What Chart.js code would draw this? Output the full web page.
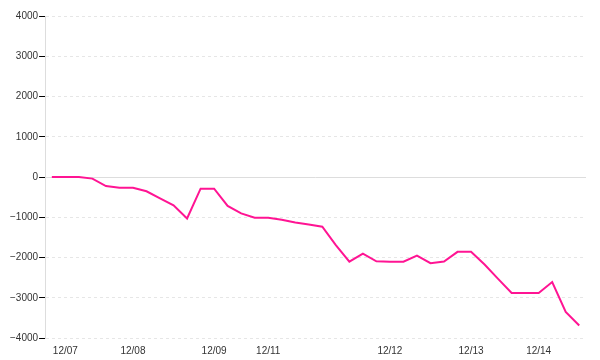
<!DOCTYPE html>
<html>
<head>
<meta charset="utf-8">
<script src="https://cdn.jsdelivr.net/npm/chart.js@4/dist/chart.umd.min.js"></script>
<style>
  html, body { margin: 0; padding: 0; background: #fff; }
  #wrap { width: 600px; height: 360px; }
</style>
</head>
<body>
<div id="wrap"><canvas id="chart"></canvas></div>
<script>
// 40 points, only some carry a date label
const labels = [
  '', '12/07', '', '', '', '', '12/08', '', '', '',
  '', '', '12/09', '', '', '', '12/11', '', '', '',
  '', '', '', '', '', '12/12', '', '', '', '',
  '', '12/13', '', '', '', '', '12/14', '', '', ''
];

const values = [
  0, 0, 0, -40, -225, -265, -265, -355, -530, -705,
  -1030, -290, -290, -720, -905, -1010, -1010, -1060, -1130, -1180,
  -1235, -1690, -2105, -1905, -2095, -2105, -2105, -1955, -2140, -2100,
  -1860, -1860, -2175, -2530, -2880, -2880, -2880, -2610, -3350, -3690
];

const yTicks = { min: -4000, max: 4000, step: 1000 };

// solid line at zero on top of the dashed grid
const zeroLine = {
  id: 'zeroLine',
  beforeDatasetsDraw(chart) {
    const { ctx, chartArea, scales } = chart;
    const y = Math.round(scales.y.getPixelForValue(0)) + 0.5;
    ctx.save();
    ctx.strokeStyle = '#dddddd';
    ctx.lineWidth = 1;
    ctx.beginPath();
    ctx.moveTo(chartArea.left, y);
    ctx.lineTo(chartArea.right, y);
    ctx.stroke();
    ctx.restore();
  },
};

new Chart(document.getElementById('chart'), {
  type: 'line',
  data: {
    labels,
    datasets: [
      {
        data: values,
        borderColor: '#ff1493',
        borderWidth: 2,
        pointRadius: 0,
        fill: false,
        tension: 0,
      },
    ],
  },
  options: {
    responsive: true,
    maintainAspectRatio: false,
    animation: false,
    layout: { padding: { left: 9, right: 14, top: 16, bottom: -4 } },
    plugins: { legend: { display: false }, tooltip: { enabled: false } },
    scales: {
      x: {
        offset: true,
        grid: { display: false, drawTicks: false, tickLength: 0 },
        border: { display: false },
        ticks: {
          autoSkip: false,
          maxRotation: 0,
          padding: 7,
          color: '#333',
          font: { family: 'Liberation Sans', size: 10 },
        },
      },
      y: {
        min: yTicks.min,
        max: yTicks.max,
        grid: {
          color: (c) => (c.tick && c.tick.value === 0 ? 'rgba(0,0,0,0)' : '#e6e6e6'),
          tickColor: '#000',
          tickLength: 6,
        },
        border: { display: true, color: '#dddddd', dash: [3, 3] },
        ticks: {
          stepSize: yTicks.step,
          padding: 1,
          color: '#333',
          font: { family: 'Liberation Sans', size: 10 },
          callback: (v) => (v < 0 ? '\u2212' + Math.abs(v) : String(v)),
        },
      },
    },
  },
  plugins: [zeroLine],
});
</script>
</body>
</html>
